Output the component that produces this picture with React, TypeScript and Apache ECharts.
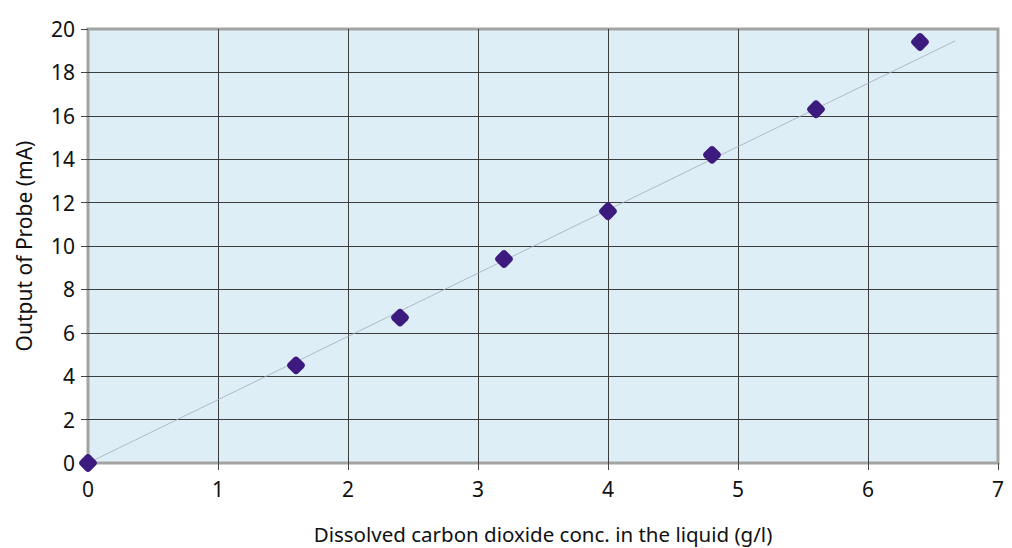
import React, { useEffect, useRef } from "react";
import * as echarts from "echarts";

const concX = [0, 1.6, 2.4, 3.2, 4.0, 4.8, 5.6, 6.4];
const outputY = [0, 4.5, 6.7, 9.4, 11.6, 14.2, 16.3, 19.4];
const trendX = [0, 6.67];
const trendY = [0, 19.45];
const xTicks = [0, 1, 2, 3, 4, 5, 6, 7];
const yTicks = [0, 2, 4, 6, 8, 10, 12, 14, 16, 18, 20];

const FONT = "Noto Sans";

export default function App() {
  const ref = useRef<HTMLDivElement>(null);
  useEffect(() => {
    const chart = echarts.init(ref.current!, null, { renderer: "svg" });
    chart.setOption({
      animation: false,
      grid: {
        left: 88,
        top: 29,
        right: 14,
        bottom: 85,
        outerBoundsMode: "none",
        containLabel: false,
        show: true,
        backgroundColor: "#deeef7",
        borderColor: "#a3a3a3",
        borderWidth: 3,
      },
      xAxis: {
        type: "value",
        min: xTicks[0],
        max: xTicks[xTicks.length - 1],
        interval: 1,
        name: "Dissolved carbon dioxide conc. in the liquid (g/l)",
        nameLocation: "middle",
        nameGap: 60,
        nameTextStyle: { fontFamily: FONT, fontSize: 20.5, color: "#111" },
        axisLine: { show: false },
        axisTick: { show: true, length: 7, lineStyle: { color: "#444" } },
        axisLabel: { fontFamily: FONT, fontSize: 21, color: "#111", margin: 15 },
        splitLine: { show: true, showMinLine: false, showMaxLine: false, lineStyle: { color: "#3c3c3c", width: 1 } },
      },
      yAxis: {
        type: "value",
        min: yTicks[0],
        max: yTicks[yTicks.length - 1],
        interval: 2,
        name: "Output of Probe (mA)",
        nameLocation: "middle",
        nameGap: 54,
        nameTextStyle: { fontFamily: FONT, fontSize: 21, color: "#111" },
        axisLine: { show: false },
        axisTick: { show: true, length: 7, lineStyle: { color: "#444" } },
        axisLabel: { fontFamily: FONT, fontSize: 21, color: "#111", margin: 13 },
        splitLine: { show: true, showMinLine: false, showMaxLine: false, lineStyle: { color: "#3c3c3c", width: 1 } },
      },
      series: [
        {
          type: "line",
          data: trendX.map((x, i) => [x, trendY[i]]),
          showSymbol: false,
          symbol: "none",
          lineStyle: { color: "#a4acba", width: 0.8 },
          z: 3,
          silent: true,
        },
        {
          type: "scatter",
          data: concX.map((x, i) => [x, outputY[i]]),
          symbol: "roundRect",
          symbolSize: 14.5,
          symbolRotate: 45,
          itemStyle: { color: "#3d1a7d", opacity: 1 },
          z: 4,
        },
      ],
    });
    return () => chart.dispose();
  }, []);
  return <div ref={ref} style={{ width: 1012, height: 548, position: "absolute", left: 0, top: 0 }} />;
}
